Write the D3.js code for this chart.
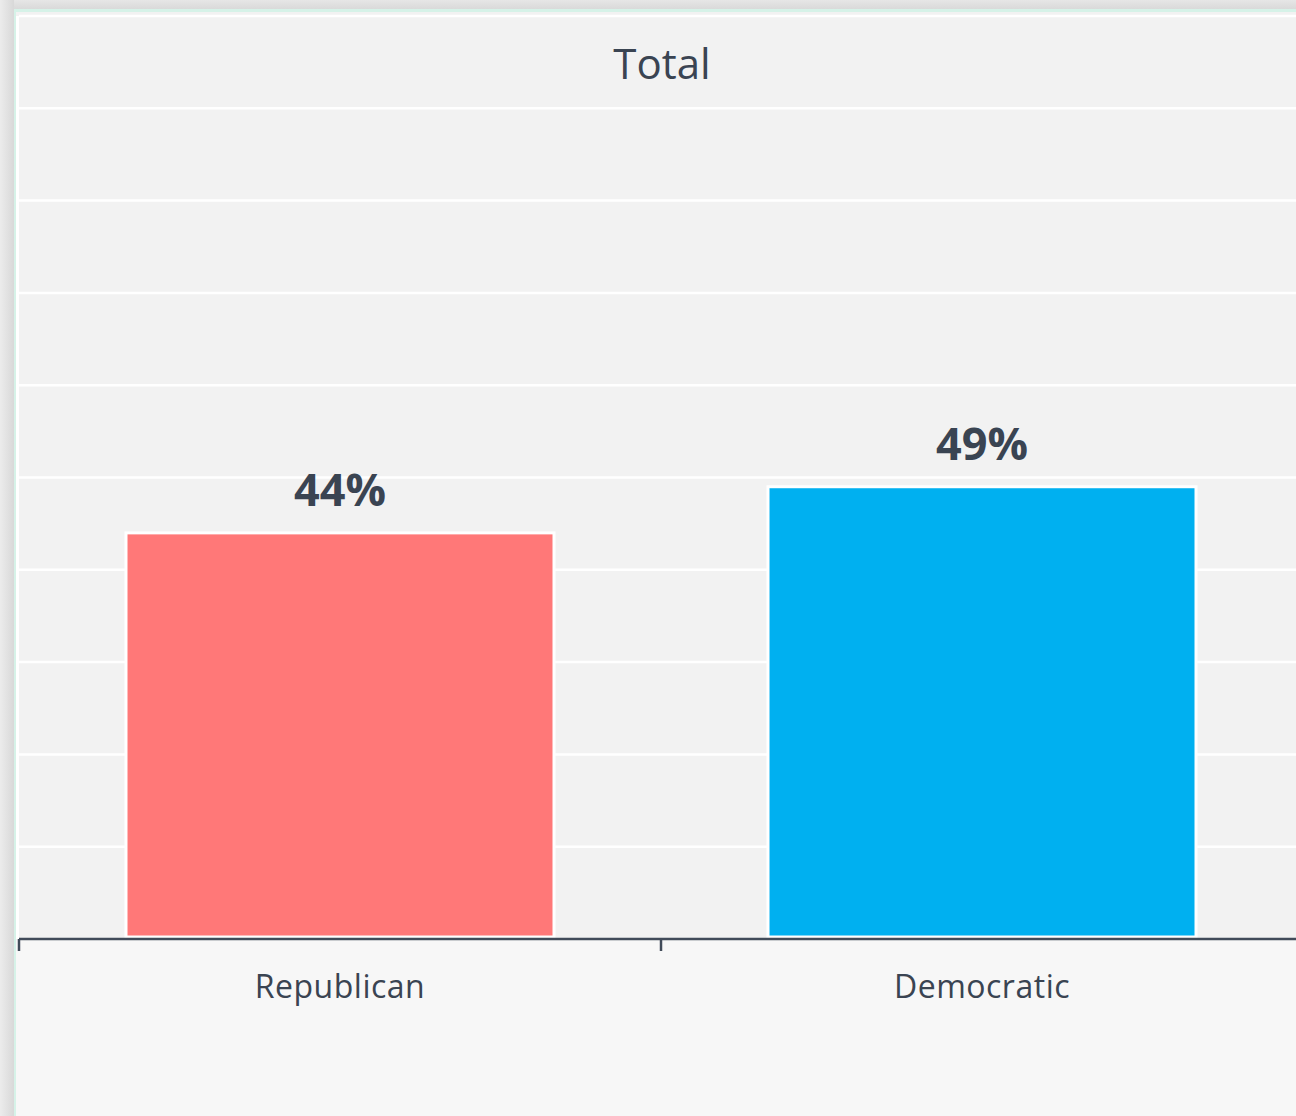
<!DOCTYPE html>
<html><head><meta charset="utf-8">
<script src="https://cdn.jsdelivr.net/npm/d3@7"></script>
<style>html,body{margin:0;padding:0;background:#fff;}svg{display:block;}</style>
</head><body>
<script>
const categories = ["Republican", "Democratic"];
const values = [0.44, 0.49];
const labels = ["44%", "49%"];
const colors = ["#ff7878", "#00b0f0"];
const gridTicks = [0.1,0.2,0.3,0.4,0.5,0.6,0.7,0.8,0.9,1.0];
const title = "Total";

const W = 1296, H = 1116;
const svg = d3.select("body").append("svg").attr("width", W).attr("height", H);
const defs = svg.append("defs");
const g1 = defs.append("linearGradient").attr("id","shL").attr("x1",0).attr("x2",1).attr("y1",0).attr("y2",0);
g1.append("stop").attr("offset",0).attr("stop-color","#ececec");
g1.append("stop").attr("offset",1).attr("stop-color","#d8d8d8");
const g2 = defs.append("linearGradient").attr("id","shT").attr("x1",0).attr("x2",0).attr("y1",0).attr("y2",1);
g2.append("stop").attr("offset",0).attr("stop-color","#e6e6e6");
g2.append("stop").attr("offset",1).attr("stop-color","#d8d8d8");

svg.append("rect").attr("x",0).attr("y",0).attr("width",W).attr("height",10).attr("fill","url(#shT)");
svg.append("rect").attr("x",0).attr("y",0).attr("width",14).attr("height",H).attr("fill","url(#shL)");
// mint border
svg.append("rect").attr("x",14).attr("y",9).attr("width",W).attr("height",H).attr("fill","#d6f2e8");
// chart area
svg.append("rect").attr("x",16).attr("y",12).attr("width",W).attr("height",H).attr("fill","#f7f7f7");

const x0 = 19, x1 = 1303, yTop = 16, yBase = 939;
svg.append("rect").attr("x",16).attr("y",12).attr("width",W).attr("height",yBase-12).attr("fill","#f2f2f2");
svg.append("rect").attr("x",16).attr("y",16).attr("width",3).attr("height",yBase-16).attr("fill","#ffffff");

const x = d3.scaleBand().domain(categories).range([x0, x1]).padding(0);
const y = d3.scaleLinear().domain([0, 1]).range([yBase, yTop]);

// gridlines
svg.append("g").selectAll("line").data(gridTicks).join("line")
  .attr("x1", x0).attr("x2", W).attr("y1", d => y(d)).attr("y2", d => y(d))
  .attr("stroke", "#ffffff").attr("stroke-width", 2.5);

// bars
const bw = x.bandwidth() * 2 / 3;
svg.append("g").selectAll("rect").data(categories).join("rect")
  .attr("x", d => x(d) + (x.bandwidth() - bw) / 2)
  .attr("y", (d, i) => y(values[i]))
  .attr("width", bw)
  .attr("height", (d, i) => yBase - 2 - y(values[i]))
  .attr("fill", (d, i) => colors[i])
  .attr("stroke", "#ffffff").attr("stroke-width", 3);

// data labels
svg.append("g").selectAll("text").data(categories).join("text")
  .attr("x", d => x(d) + x.bandwidth() / 2)
  .attr("y", (d, i) => y(values[i]) - 27)
  .attr("text-anchor", "middle")
  .attr("font-family", "'Open Sans', sans-serif")
  .attr("font-weight", "bold").attr("font-size", 45)
  .attr("fill", "#3a4452")
  .text((d, i) => labels[i]);

// x axis
const axis = svg.append("g").attr("transform", `translate(0,${yBase})`);
axis.append("line").attr("x1", x0).attr("x2", W).attr("y1", 0).attr("y2", 0)
  .attr("stroke", "#414b59").attr("stroke-width", 2.5);
const bounds = categories.map(c => x(c));
axis.selectAll("line.tick").data(bounds).join("line").attr("class","tick")
  .attr("x1", d => d).attr("x2", d => d).attr("y1", 0).attr("y2", 12)
  .attr("stroke", "#414b59").attr("stroke-width", 2.5);
axis.selectAll("text").data(categories).join("text")
  .attr("x", d => x(d) + x.bandwidth() / 2)
  .attr("y", 59)
  .attr("text-anchor", "middle")
  .attr("font-family", "'Open Sans', sans-serif")
  .attr("font-size", 32)
  .attr("letter-spacing", 0.5)
  .attr("fill", "#3a4452")
  .text(d => d);

// title
svg.append("text").attr("x", 662).attr("y", 79).attr("text-anchor", "middle")
  .attr("font-family", "'Open Sans', sans-serif").attr("font-size", 42)
  .attr("fill", "#3a4452").text(title);
</script>
</body></html>
